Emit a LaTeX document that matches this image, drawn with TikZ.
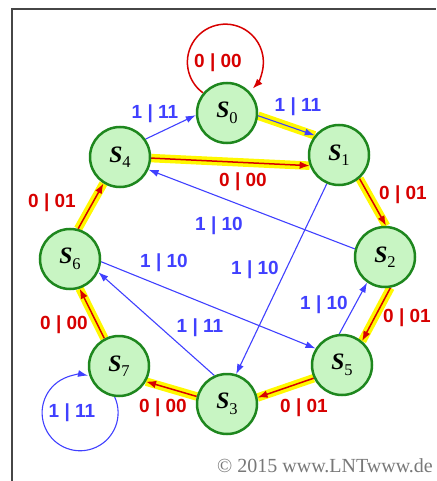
\documentclass[tikz,border=0pt]{standalone}
\usepackage{fontspec}
\setmainfont{Liberation Serif}
\newfontfamily\lsans{Liberation Sans}
\usetikzlibrary{arrows.meta}
\definecolor{nfill}{RGB}{200,245,195}
\definecolor{ngreen}{RGB}{30,135,30}
\definecolor{ered}{RGB}{215,0,0}
\definecolor{eblue}{RGB}{64,64,255}
\definecolor{hyellow}{RGB}{255,248,0}
\definecolor{cgray}{RGB}{120,120,120}
\definecolor{fgray}{RGB}{70,70,70}
\pgfdeclarelayer{bg}
\pgfsetlayers{bg,main}
\newcommand\nS[1]{{\fontsize{23.5}{23.5}\selectfont\bfseries\itshape S}\raisebox{-5.5pt}{\fontsize{16.5}{16.5}\selectfont #1}}
\tikzset{
  st/.style={circle, draw=ngreen, fill=nfill, line width=2.5pt, minimum size=60pt, inner sep=0pt},
  redarr/.style={draw=ered, line width=1.5pt, -{Latex[length=10pt,width=7.5pt]}},
  bluearr/.style={draw=eblue, line width=1.1pt, -{Latex[length=10pt,width=7pt]}},
  hl/.style={draw=hyellow, line width=8.5pt},
  lbl/.style={font=\lsans\bfseries\fontsize{19}{19}\selectfont, inner sep=0pt},
  rl/.style={lbl, text=ered},
  bl/.style={lbl, text=eblue},
  framestyle/.style={draw=fgray, line width=2pt},
  copystyle/.style={font=\fontsize{20}{20}\selectfont, text=cgray, inner sep=0pt, anchor=east}
}
\begin{document}
\begin{tikzpicture}[x=1pt,y=-1pt]
\useasboundingbox (0,0) rectangle (436,481);
\draw[framestyle] (12,481) -- (12,9) -- (436,9);
% states
\node[st] (S0) at (227,113) {\nS{0}};
\node[st] (S1) at (339,155) {\nS{1}};
\node[st] (S2) at (385,257) {\nS{2}};
\node[st] (S5) at (342,365) {\nS{5}};
\node[st] (S3) at (227,404) {\nS{3}};
\node[st] (S7) at (119,366) {\nS{7}};
\node[st] (S6) at (70,259) {\nS{6}};
\node[st] (S4) at (120,157) {\nS{4}};
\begin{pgfonlayer}{bg}
% highlighted path
\draw[hl] (S0.-5) -- (S1.141);
\draw[hl] (S4.-2) -- (S1.200);
\draw[hl] (S1.-49) -- (S2.88);
\draw[hl] (S2.-80) -- (S5.50);
\draw[hl] (S5.205) -- (S3.12);
\draw[hl] (S3.166) -- (S7.-30);
\draw[hl] (S7.118) -- (S6.-72);
\draw[hl] (S6.75) -- (S4.-122);
% red transitions (input 0)
\draw[redarr] (S4.-2) -- (S1.200);
\draw[redarr] (S1.-49) -- (S2.88);
\draw[redarr] (S2.-80) -- (S5.50);
\draw[redarr] (S5.205) -- (S3.12);
\draw[redarr] (S3.166) -- (S7.-30);
\draw[redarr] (S7.118) -- (S6.-72);
\draw[redarr] (S6.75) -- (S4.-122);
\draw[redarr] (S0.140) arc[start angle=234, end angle=-44, radius=38pt];
% blue transitions (input 1)
\draw[bluearr] (S0.-5) -- (S1.141);
\draw[bluearr] (S4.35) -- (S0.184);
\draw[bluearr] (S2.165) -- (S4.-24);
\draw[bluearr] (S1.-113) -- (S3.73);
\draw[bluearr] (S6.-5) -- (S5.148);
\draw[bluearr] (S5.95) -- (S2.-125);
\draw[bluearr] (S3.114) -- (S6.-25);
\draw[bluearr] (S7.-98) arc[start angle=24.6, end angle=-282, radius=38pt];
\end{pgfonlayer}
% labels
\node[rl] (l00) at (218,63) {0 | 00};
\node[bl] (l40) at (155,114) {1 | 11};
\node[bl] (l01) at (298,107) {1 | 11};
\node[rl] (l41) at (243,182) {0 | 00};
\node[rl] (l12) at (403,195) {0 | 01};
\node[bl] (l24) at (219,226) {1 | 10};
\node[bl] (l13) at (255,270) {1 | 10};
\node[bl] (l65) at (164,263) {1 | 10};
\node[bl] (l52) at (324,305) {1 | 10};
\node[rl] (l25) at (407,318) {0 | 01};
\node[bl] (l36) at (200,328) {1 | 11};
\node[rl] (l76) at (64,325) {0 | 00};
\node[rl] (l64) at (52,203) {0 | 01};
\node[rl] (l53) at (304,408) {0 | 01};
\node[rl] (l37) at (163,408) {0 | 00};
\node[bl] (l77) at (72,413) {1 | 11};
\node[copystyle] (cr) at (433,466) {© 2015 www.LNTwww.de};
\end{tikzpicture}
\end{document}
